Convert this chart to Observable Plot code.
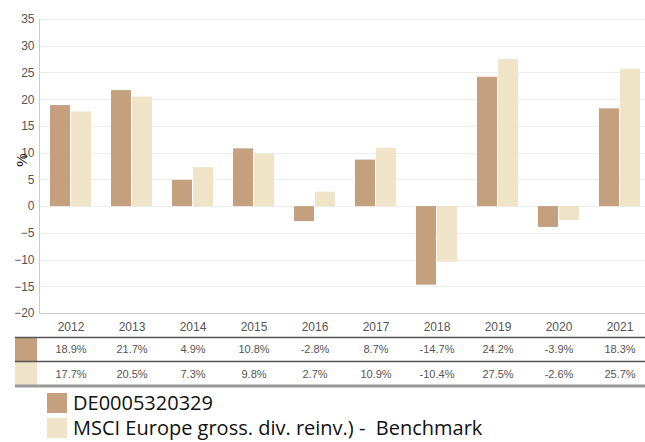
<!DOCTYPE html>
<html><head><meta charset="utf-8">
<script src="https://cdn.jsdelivr.net/npm/d3@7"></script>
<script src="https://cdn.jsdelivr.net/npm/@observablehq/plot@0.6"></script>
<style>
body{margin:0;background:#fff;font-family:"Liberation Sans",Arial,sans-serif;}
#wrap{position:relative;width:645px;overflow:hidden;}
.leg{display:flex;align-items:center;height:25px;margin-left:47px;font-family:"Open Sans",sans-serif;font-size:20px;color:#111;white-space:pre;}
.leg span.sw{display:inline-block;width:20px;height:20px;margin-right:6px;}
</style></head>
<body><div id="wrap"></div>
<script>
const years = ["2012","2013","2014","2015","2016","2017","2018","2019","2020","2021"];
const fundValues = [18.9,21.7,4.9,10.8,-2.8,8.7,-14.7,24.2,-3.9,18.3];
const benchValues = [17.7,20.5,7.3,9.8,2.7,10.9,-10.4,27.5,-2.6,25.7];
const seriesNames = ["DE0005320329","MSCI Europe gross. div. reinv.) -  Benchmark"];
const seriesColors = ["#c4a07f","#efe3c8"];
const yTicks = [-20,-15,-10,-5,0,5,10,15,20,25,30,35];

const rows = [];
years.forEach((y,i)=>{
  rows.push({year:y, series:"fund", value:fundValues[i]});
  rows.push({year:y, series:"bench", value:benchValues[i]});
});
const fmt = v => v.toFixed(1) + "%";
const fundRows = years.map((y,i)=>({year:y, text:fmt(fundValues[i])}));
const benchRows = years.map((y,i)=>({year:y, text:fmt(benchValues[i])}));

const plot = Plot.plot({
  width:645, height:390,
  marginLeft:39, marginRight:0, marginTop:19, marginBottom:77,
  style:{fontFamily:"'Liberation Sans', Arial, sans-serif", fontSize:"12px", color:"#555"},
  fx:{domain:years, padding:0, label:null, range:[39.5,650.5]},
  x:{domain:["fund","bench"], paddingInner:0.03, paddingOuter:0.436, axis:null},
  y:{domain:[-20,35], ticks:yTicks, label:null},
  color:{domain:["fund","bench"], range:seriesColors},
  marks:[
    Plot.axisY(yTicks, {tickSize:0, tickPadding:6, fontSize:12, fill:"#555", label:null}),
    Plot.axisFx({anchor:"bottom", tickSize:0, tickPadding:9, fontSize:12, fill:"#555", label:null}),
    Plot.barY(rows, {fx:"year", x:"series", y:"value", fill:"series"}),
    Plot.text(fundRows, {fx:"year", text:"text", frameAnchor:"bottom", dy:39, fontSize:11, fill:"#555"}),
    Plot.text(benchRows, {fx:"year", text:"text", frameAnchor:"bottom", dy:64, fontSize:11, fill:"#555"})
  ]
});
document.getElementById("wrap").appendChild(plot);

const svg = d3.select(plot);
const ys = plot.scale("y");
// gridlines drawn behind bars using the plot's y scale
const grid = svg.insert("g", ":first-child").attr("stroke","#ececec");
yTicks.forEach(t => {
  const yy = Math.round(ys.apply(t)) + 0.5;
  grid.append("line").attr("x1",39).attr("x2",645).attr("y1",yy).attr("y2",yy);
});
const y0 = ys.apply(-20);
// axis lines
svg.append("line").attr("x1",39.5).attr("x2",39.5).attr("y1",ys.apply(35)).attr("y2",y0).attr("stroke","#ccc");
svg.append("line").attr("x1",39).attr("x2",645).attr("y1",Math.round(y0)+0.5).attr("y2",Math.round(y0)+0.5).attr("stroke","#ccc");
// "%" label
svg.append("text").attr("transform","translate(27,160) rotate(-90)").attr("text-anchor","middle")
  .attr("font-size",15).attr("fill","#111").text("%");
// table decorations
svg.append("rect").attr("x",15).attr("y",338).attr("width",22).attr("height",23).attr("fill",seriesColors[0]);
svg.append("rect").attr("x",15).attr("y",362).attr("width",22).attr("height",23).attr("fill",seriesColors[1]);
svg.append("line").attr("x1",15).attr("x2",645).attr("y1",337.5).attr("y2",337.5).attr("stroke","#555").attr("stroke-width",1.5);
svg.append("line").attr("x1",15).attr("x2",645).attr("y1",361.5).attr("y2",361.5).attr("stroke","#555").attr("stroke-width",1.5);
svg.append("line").attr("x1",15).attr("x2",645).attr("y1",386).attr("y2",386).attr("stroke","#999").attr("stroke-width",3);

const leg = document.createElement("div");
seriesNames.forEach((n,i)=>{
  const d = document.createElement("div"); d.className="leg";
  d.innerHTML = `<span class="sw" style="background:${seriesColors[i]}"></span><span></span>`;
  d.lastChild.textContent = n;
  leg.appendChild(d);
});
document.getElementById("wrap").appendChild(leg);
</script></body></html>
